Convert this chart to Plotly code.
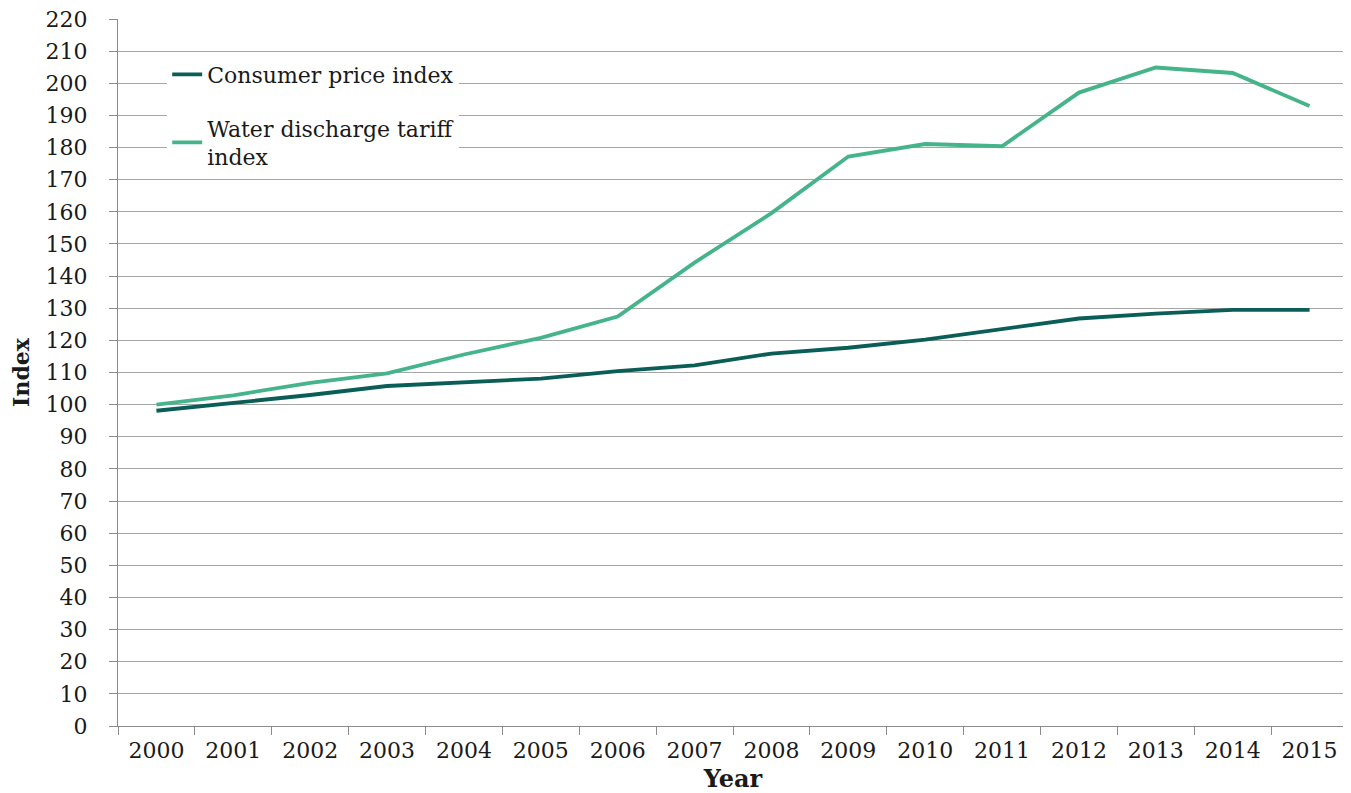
import plotly.graph_objects as go

years = [str(y) for y in range(2000, 2016)]
cpi = [98.1, 100.5, 103.0, 105.8, 106.8, 108.1, 110.4, 112.2, 115.9, 117.7, 120.2, 123.6, 126.8, 128.3, 129.5, 129.5]
water = [100.0, 102.9, 106.8, 109.7, 115.6, 120.8, 127.4, 144.2, 159.6, 177.2, 181.1, 180.4, 197.1, 204.9, 203.2, 192.9]

FONT = "'DejaVu Serif', Georgia, serif"
GRID = "#a6a6a6"
AX = "#8c8c8c"

fig = go.Figure()
fig.add_trace(go.Scatter(x=years, y=cpi, mode="lines", name="Consumer price index",
                         legendgroup="a", line=dict(color="#0a5e57", width=3.8)))
fig.add_trace(go.Scatter(x=years, y=water, mode="lines", name="Water discharge tariff<br>index",
                         legendgroup="b", line=dict(color="#45b48b", width=3.8)))

fig.update_layout(
    width=1343, height=785,
    margin=dict(l=110, r=3, t=11, b=67, autoexpand=False),
    paper_bgcolor="white", plot_bgcolor="white",
    font=dict(family=FONT, size=22, color="#1a1a1a"),
    showlegend=True,
    legend=dict(x=0.04, y=0.951, xanchor="left", yanchor="top", bgcolor="white",
                font=dict(family=FONT, size=22, color="#1a1a1a"),
                tracegroupgap=22, itemwidth=30),
)
fig.update_xaxes(type="category", range=[-0.5, 15.5], tickson="boundaries",
                 ticks="outside", ticklen=8, tickcolor=AX, ticklabeloverflow="allow",
                 showline=True, linecolor=AX, linewidth=1, automargin=False,
                 showgrid=False, tickfont=dict(family=FONT, size=22), ticklabelstandoff=5,
                 title=dict(text="<b>Year</b>", font=dict(family=FONT, size=24), standoff=8))
fig.update_yaxes(range=[0, 220], dtick=10, ticks="outside", ticklen=8, tickcolor=AX,
                 ticklabeloverflow="allow",
                 showline=True, linecolor=AX, linewidth=1, automargin=False,
                 showgrid=True, gridcolor=GRID, gridwidth=1, zeroline=False,
                 tickfont=dict(family=FONT, size=22), ticklabelstandoff=17,
                 title=dict(text="<b>Index</b>", font=dict(family=FONT, size=22), standoff=12))

fig.write_html("out.html")
